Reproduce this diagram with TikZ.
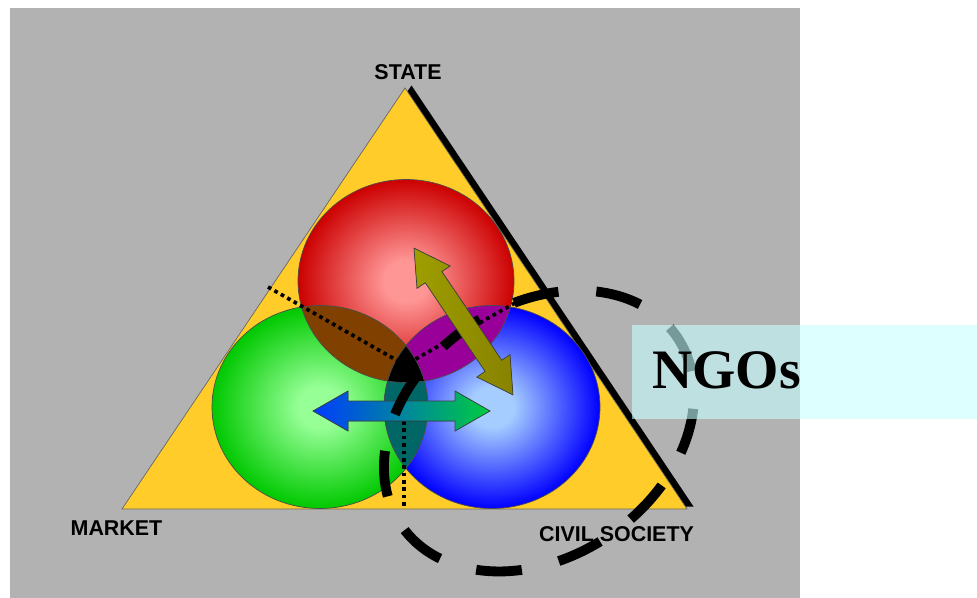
\documentclass[tikz,border=0pt]{standalone}
\usepackage{fontspec}
\setmainfont{Liberation Serif}
\setsansfont{Liberation Sans}
\usetikzlibrary{positioning}

\definecolor{bggray}{RGB}{178,178,178}
\definecolor{triyellow}{RGB}{255,204,41}
\definecolor{redin}{RGB}{255,150,150}
\definecolor{redout}{RGB}{204,0,0}
\definecolor{greenin}{RGB}{150,255,150}
\definecolor{greenout}{RGB}{0,200,0}
\definecolor{bluein}{RGB}{165,205,255}
\definecolor{blueout}{RGB}{0,0,255}
\definecolor{lensbrown}{RGB}{128,64,0}
\definecolor{lenspurple}{RGB}{153,0,153}
\definecolor{lensteal}{RGB}{0,102,102}
\definecolor{olivelight}{RGB}{158,158,0}
\definecolor{olivedark}{RGB}{136,130,0}
\definecolor{arrowblue}{RGB}{0,60,255}
\definecolor{arrowgreen}{RGB}{0,204,64}
\definecolor{ngocyan}{RGB}{198,255,255}

\pgfdeclareradialshading{redball}{\pgfpoint{0bp}{0bp}}{color(0bp)=(redin); color(5bp)=(redin); color(25bp)=(redout); color(50bp)=(redout)}
\pgfdeclareradialshading{greenball}{\pgfpoint{0bp}{0bp}}{color(0bp)=(greenin); color(5bp)=(greenin); color(25bp)=(greenout); color(50bp)=(greenout)}
\pgfdeclareradialshading{blueball}{\pgfpoint{0bp}{0bp}}{color(0bp)=(bluein); color(5bp)=(bluein); color(25bp)=(blueout); color(50bp)=(blueout)}

% the three circles (centre, radii in px)
\newcommand{\redcirc}{(406,281) ellipse (108 and 101.5)}
\newcommand{\greencirc}{(320,407) ellipse (108 and 101.5)}
\newcommand{\bluecirc}{(492,407) ellipse (108 and 101.5)}
% double headed arrow, centred on the origin
\newcommand{\twohead}{(-88.5,0) -- (-53.5,20) -- (-53.5,10) -- (53.5,10) -- (53.5,20) -- (88.5,0)
  -- (53.5,-20) -- (53.5,-10) -- (-53.5,-10) -- (-53.5,-20) -- cycle}

\begin{document}
\begin{tikzpicture}[x=0.02cm,y=-0.02cm,
    corner/.style={font=\fontsize{12.2}{14}\selectfont\sffamily\bfseries, inner sep=0pt},
    guide/.style={line width=2.1pt, dash pattern=on 2.1pt off 2.1pt},
    ring/.style={line width=5.6pt, dash pattern=on 26.1pt off 21.6pt, dash phase=4.5pt},
    arrowline/.style={draw=black!75, line width=0.4pt}]
    \useasboundingbox (0,0) rectangle (977,598);
    \fill[bggray] (10,8) rectangle (800,598);

    % triangle with its shadow
    \fill[black] (411.5,85.5) -- (693.5,506.5) -- (128.5,506.5) -- cycle;
    \filldraw[fill=triyellow, draw=black!60, line width=0.4pt] (405,88) -- (687,509) -- (122,509) -- cycle;

    % circles
    \path[shading=redball] \redcirc;
    \path[shading=greenball] \greencirc;
    \path[shading=blueball] \bluecirc;

    % overlaps
    \begin{scope}
        \clip \redcirc;
        \fill[lensbrown] \greencirc;
        \fill[lenspurple] \bluecirc;
        \clip \greencirc;
        \fill[black] \bluecirc;
    \end{scope}
    \begin{scope}
        \clip \greencirc;
        \clip \bluecirc;
        \fill[lensteal] \greencirc;
        \clip \redcirc;
        \fill[black] \bluecirc;
    \end{scope}
    \draw[black!70, line width=0.4pt] \redcirc \greencirc \bluecirc;

    % dotted lines to the sides
    \coordinate (mid) at (405,365);
    \coordinate (footL) at (268,287);
    \coordinate (footR) at (515,303);
    \coordinate (underarrow) at (404,421);
    \coordinate (footB) at (404,509);
    \draw[guide] (footL) -- (mid) -- (footR);
    \draw[guide] (underarrow) -- (footB);

    % horizontal arrow
    \begin{scope}[shift={(401.5,411)}]
        \filldraw[arrowline, left color=arrowblue, right color=arrowgreen] \twohead;
    \end{scope}

    % NGO ring
    \draw[ring, rotate around={34.5:(539,431)}] (539,431) ellipse (167 and 126);

    % slanted arrow
    \begin{scope}[shift={(463.5,321.5)}, rotate=-56]
        \filldraw[arrowline, left color=olivelight, right color=olivedark] \twohead;
    \end{scope}

    % labels
    \node[corner] (state) at (408,72) {STATE};
    \node[corner] (market) at (116.5,528.5) {MARKET};
    \node[corner] (civil) at (616.5,534) {CIVIL SOCIETY};

    \fill[ngocyan, fill opacity=0.6] (632,325) rectangle (977,419);
    \node[anchor=base west, inner sep=0pt, font=\fontsize{31.7}{36}\selectfont\bfseries] (ngos) at (652,388) {NGOs};
\end{tikzpicture}
\end{document}
